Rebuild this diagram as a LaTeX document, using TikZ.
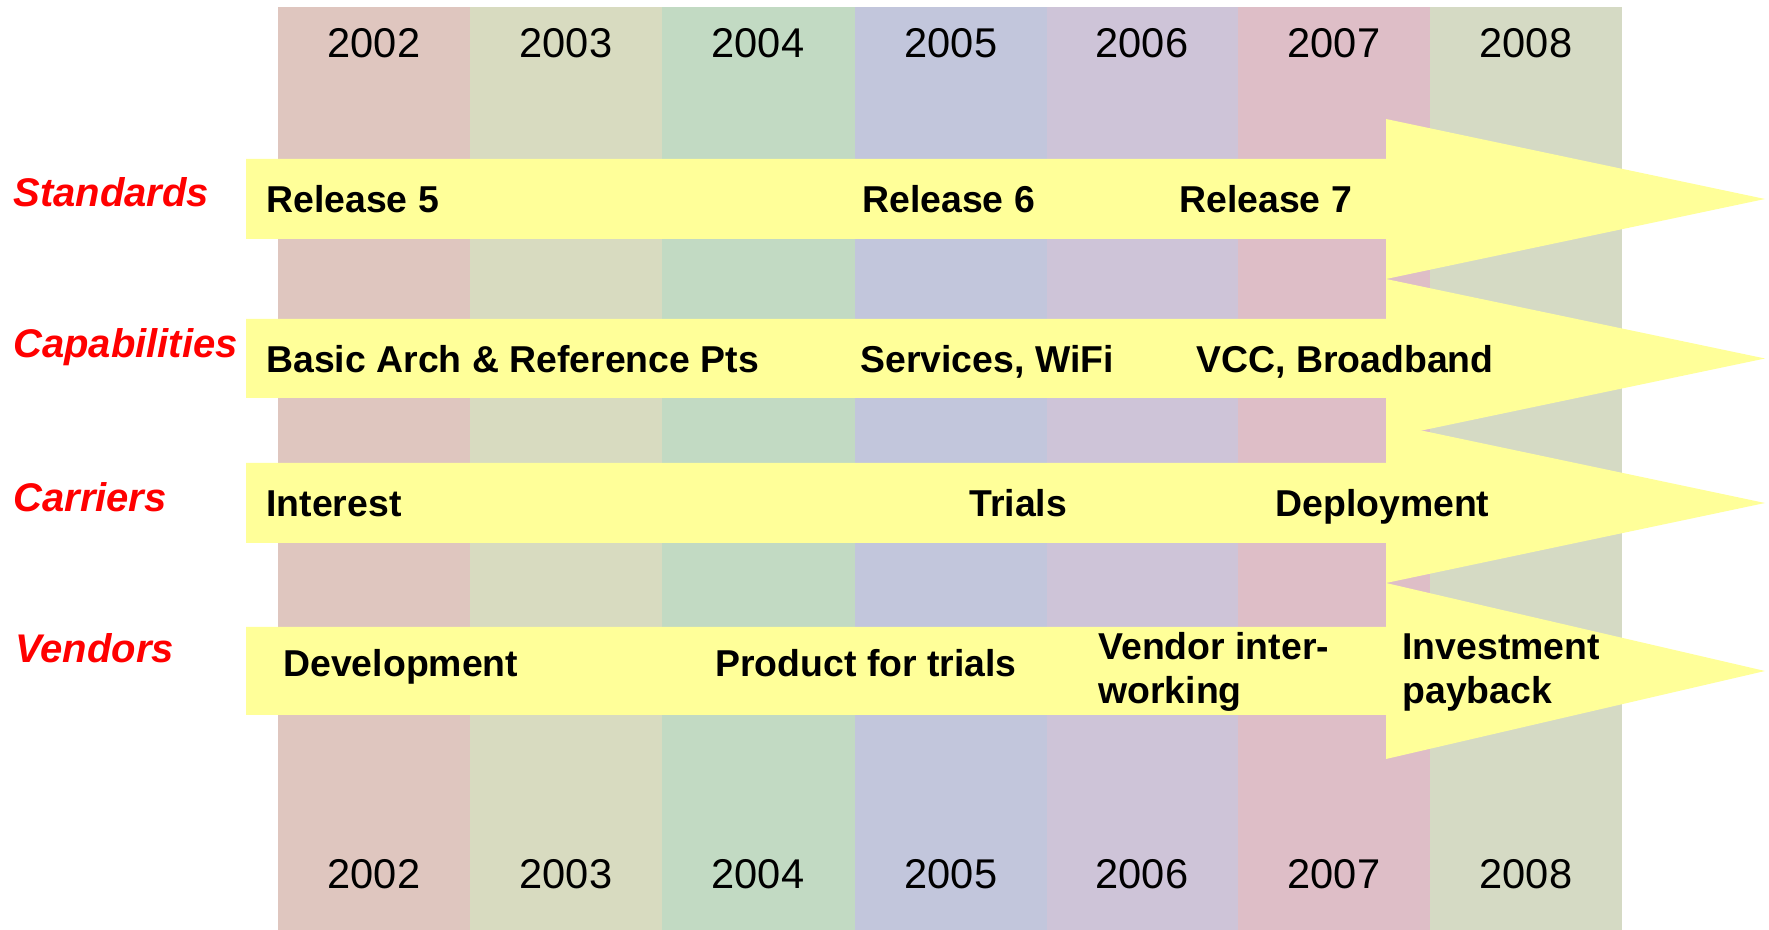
\documentclass[tikz,border=0pt]{standalone}
\usepackage{fontspec}
\setmainfont{Liberation Sans}
\definecolor{cA}{RGB}{223,198,191}
\definecolor{cB}{RGB}{216,219,192}
\definecolor{cC}{RGB}{194,218,195}
\definecolor{cD}{RGB}{194,198,220}
\definecolor{cE}{RGB}{206,196,216}
\definecolor{cF}{RGB}{222,190,199}
\definecolor{cG}{RGB}{213,218,196}
\definecolor{arrowyellow}{RGB}{255,255,153}
\begin{document}
\begin{tikzpicture}[x=0.5pt,y=-0.5pt,
  colband/.style={draw=none},
  bigarrow/.style={fill=arrowyellow,draw=none},
  yearlbl/.style={font=\fontsize{20.8}{25}\selectfont,anchor=base,inner sep=0pt},
  catlbl/.style={text=red,font=\fontsize{20}{24}\selectfont\bfseries\itshape,anchor=base west,inner sep=0pt},
  itemlbl/.style={font=\fontsize{18.7}{22}\selectfont\bfseries,anchor=base west,inner sep=0pt}]
\useasboundingbox (0,0) rectangle (1769,930);
% year columns
\fill[colband,cA] (278,7) rectangle (470,930);
\fill[colband,cB] (470,7) rectangle (662,930);
\fill[colband,cC] (662,7) rectangle (855,930);
\fill[colband,cD] (855,7) rectangle (1047,930);
\fill[colband,cE] (1047,7) rectangle (1238,930);
\fill[colband,cF] (1238,7) rectangle (1430,930);
\fill[colband,cG] (1430,7) rectangle (1622,930);
% year labels
\foreach \yr/\cx [count=\i] in {2002/374,2003/566,2004/758,2005/951,2006/1142,2007/1334,2008/1526}{
  \node[yearlbl] (top\i) at (\cx,58) {\yr};
  \node[yearlbl] (bot\i) at (\cx,888) {\yr};
}
% arrows
\path[bigarrow] (246,159) -- (1386,159) -- (1386,119) -- (1765,199) -- (1386,279) -- (1386,239) -- (246,239) -- cycle;
\path[bigarrow] (246,319) -- (1386,319) -- (1386,279) -- (1765,358.5) -- (1386,438) -- (1386,398) -- (246,398) -- cycle;
\path[bigarrow] (246,463) -- (1386,463) -- (1386,423) -- (1765,503) -- (1386,583) -- (1386,543) -- (246,543) -- cycle;
\path[bigarrow] (246,627) -- (1386,627) -- (1386,583) -- (1765,671) -- (1386,759) -- (1386,715) -- (246,715) -- cycle;
% category labels
\node[catlbl] (standards) at (13,207) {Standards};
\node[catlbl] (capabilities) at (13,358) {Capabilities};
\node[catlbl] (carriers) at (13,512) {Carriers};
\node[catlbl] (vendors) at (15,663) {Vendors};
% items
\node[itemlbl] (rel5) at (266,213) {Release 5};
\node[itemlbl] (rel6) at (862,213) {Release 6};
\node[itemlbl] (rel7) at (1179,213) {Release 7};
\node[itemlbl] (basic) at (266,373) {Basic Arch \& Reference Pts};
\node[itemlbl] (serv) at (860,373) {Services, WiFi};
\node[itemlbl] (vcc) at (1196,373) {VCC, Broadband};
\node[itemlbl] (interest) at (266,517) {Interest};
\node[itemlbl] (trials) at (969,517) {Trials};
\node[itemlbl] (deploy) at (1275,517) {Deployment};
\node[itemlbl] (devel) at (283,676) {Development};
\node[itemlbl] (prod) at (715,676) {Product for trials};
\node[itemlbl] (vint1) at (1098,660) {Vendor inter-};
\node[itemlbl] (vint2) at (1098,704) {working};
\node[itemlbl] (inv1) at (1402,660) {Investment};
\node[itemlbl] (inv2) at (1402,704) {payback};
\end{tikzpicture}
\end{document}
